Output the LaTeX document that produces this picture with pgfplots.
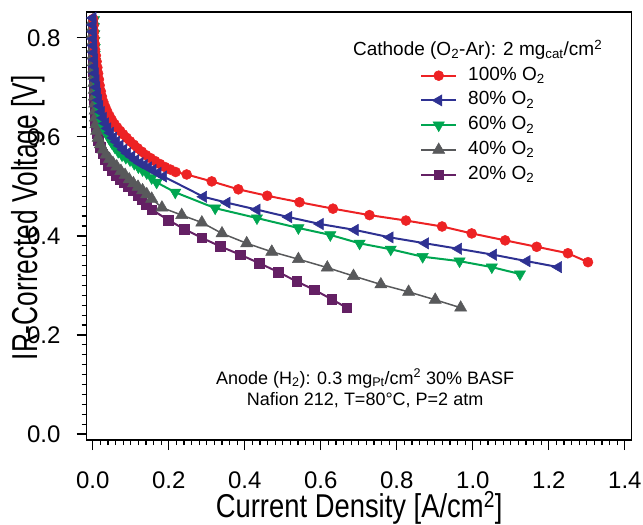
\documentclass[border=0pt]{standalone}
\usepackage{pgfplots}
\pgfplotsset{compat=1.18}
\usepackage{fontspec}
\setmainfont{Liberation Sans}
\newfontfamily\narrowsans[FakeStretch=0.83]{Liberation Sans}
\newfontfamily\narrowersans[FakeStretch=0.73]{Liberation Sans}

\definecolor{cRed}{RGB}{237,34,36}
\definecolor{cBlue}{RGB}{46,49,146}
\definecolor{cGreen}{RGB}{0,166,81}
\definecolor{cGray}{RGB}{88,89,91}
\definecolor{cPurple}{RGB}{100,32,100}

\begin{document}
\begin{tikzpicture}
\begin{axis}[
  name=ax, at={(0,0)}, anchor=south west,
  width=545pt, height=428pt, scale only axis,
  xmin=-0.016, xmax=1.418, ymin=-0.012, ymax=0.852,
  xtick={0,0.2,0.4,0.6,0.8,1.0,1.2,1.4},
  ytick={0,0.2,0.4,0.6,0.8},
  minor x tick num=9, minor y tick num=9,
  tick align=outside, xtick pos=bottom, ytick pos=left,
  major tick length=10pt, minor tick length=5pt,
  every tick/.style={black, line width=1.2pt},
  axis line style={line width=1.5pt},
  tick label style={font=\fontsize{24}{24}\selectfont, inner sep=0pt},
  xticklabel style={yshift=-22pt, text depth=0pt},
  yticklabel style={xshift=-16pt},
  /pgf/number format/fixed,
  /pgf/number format/fixed zerofill,
  /pgf/number format/precision=1,
  /pgf/number format/assume math mode=true,
  xlabel={\narrowsans\fontsize{33}{33}\selectfont Current Density [A/cm\textsuperscript{2}]},
  ylabel={\narrowersans\fontsize{36}{36}\selectfont IR-Corrected Voltage [V]},
  xlabel style={at={(axis description cs:0.5,-0.1799)}, anchor=base, inner sep=0pt},
  ylabel style={at={(axis description cs:-0.0905,0.519)}, anchor=base, inner sep=0pt},
  legend style={at={(axis description cs:0.6116,0.8727)}, anchor=north west,
    draw=none, fill=none, inner sep=0pt, row sep=6.75pt,
    font=\fontsize{19}{19}\selectfont,
    nodes={inner sep=0pt, text height=13.5pt, text depth=4.5pt},
    /tikz/every odd column/.append style={column sep=11pt}},
  legend cell align=left,
  legend image code/.code={\draw[#1, mark=none] plot coordinates {(0pt,0pt) (35pt,0pt)};
    \draw[#1] plot coordinates {(17.5pt,0pt)};},
]

% 20% O2
\addplot[forget plot, cPurple, line width=2pt, mark=square*, mark size=4.8pt,
  mark options={line width=0.5pt}] coordinates {
(0.000,0.830)(0.000,0.816)(0.000,0.802)(0.001,0.788)(0.001,0.774)(0.001,0.760)
(0.002,0.746)(0.002,0.732)(0.003,0.718)(0.003,0.704)(0.004,0.690)(0.004,0.676)
(0.005,0.662)(0.006,0.648)(0.007,0.634)(0.008,0.620)(0.011,0.606)(0.015,0.592)
(0.020,0.579)(0.026,0.566)(0.033,0.554)(0.041,0.543)(0.050,0.532)(0.060,0.522)
(0.071,0.514)(0.082,0.507)(0.094,0.499)(0.106,0.491)(0.118,0.482)(0.129,0.473)
(0.141,0.463)(0.155,0.453)(0.199,0.432)(0.240,0.414)(0.287,0.396)(0.335,0.379)
(0.388,0.362)(0.438,0.345)(0.488,0.327)(0.537,0.308)(0.583,0.291)(0.629,0.272)
(0.668,0.255)};

% 40% O2
\addplot[forget plot, cGray, line width=1.5pt, mark=triangle*, mark size=7pt,
  mark options={line width=0.5pt}] coordinates {
(0.000,0.835)(0.000,0.821)(0.000,0.807)(0.001,0.793)(0.001,0.779)(0.001,0.765)
(0.002,0.751)(0.002,0.737)(0.003,0.723)(0.003,0.709)(0.004,0.695)(0.004,0.681)
(0.005,0.667)(0.006,0.653)(0.007,0.639)(0.008,0.625)(0.010,0.612)(0.014,0.598)
(0.020,0.585)(0.027,0.574)(0.035,0.564)(0.044,0.555)(0.053,0.547)(0.063,0.540)
(0.074,0.531)(0.085,0.523)(0.096,0.514)(0.107,0.506)(0.119,0.499)(0.131,0.492)
(0.142,0.484)(0.155,0.475)(0.182,0.457)(0.234,0.442)(0.287,0.427)(0.340,0.405)
(0.405,0.385)(0.471,0.368)(0.541,0.353)(0.617,0.336)(0.686,0.319)(0.758,0.302)
(0.831,0.287)(0.901,0.271)(0.968,0.255)};

% 60% O2
\addplot[forget plot, cGreen, line width=2pt, mark=triangle*, mark size=6.5pt,
  mark options={line width=0.5pt, rotate=180}] coordinates {
(0.003,0.836)(0.003,0.822)(0.004,0.808)(0.004,0.794)(0.005,0.780)(0.005,0.766)
(0.006,0.752)(0.007,0.738)(0.008,0.724)(0.009,0.710)(0.010,0.696)(0.012,0.682)
(0.014,0.668)(0.017,0.655)(0.020,0.642)(0.024,0.630)(0.029,0.619)(0.035,0.608)
(0.042,0.598)(0.050,0.588)(0.058,0.579)(0.067,0.570)(0.077,0.563)(0.087,0.558)
(0.098,0.553)(0.109,0.546)(0.120,0.539)(0.131,0.533)(0.142,0.527)(0.155,0.517)
(0.168,0.508)(0.217,0.488)(0.322,0.456)(0.432,0.436)(0.541,0.416)(0.625,0.402)
(0.702,0.385)(0.784,0.373)(0.868,0.358)(0.965,0.349)(1.050,0.337)(1.124,0.323)};

% 100% O2
\addplot[forget plot, cRed, line width=2pt, mark=*, mark size=5pt,
  mark options={line width=0.5pt}] coordinates {
(0.001,0.838)(0.002,0.825)(0.003,0.812)(0.004,0.800)(0.005,0.788)(0.006,0.776)
(0.008,0.764)(0.010,0.752)(0.012,0.740)(0.014,0.728)(0.016,0.716)(0.018,0.704)
(0.021,0.692)(0.024,0.681)(0.028,0.670)(0.033,0.660)(0.038,0.651)(0.044,0.642)
(0.050,0.634)(0.057,0.626)(0.064,0.619)(0.072,0.612)(0.080,0.605)(0.089,0.598)
(0.098,0.591)(0.108,0.584)(0.118,0.577)(0.129,0.570)(0.140,0.563)(0.152,0.557)
(0.164,0.551)(0.177,0.545)(0.190,0.539)(0.204,0.534)(0.218,0.529)(0.247,0.524)
(0.313,0.510)(0.383,0.494)(0.459,0.481)(0.544,0.468)(0.632,0.455)(0.728,0.442)
(0.824,0.431)(0.919,0.419)(0.997,0.405)(1.085,0.391)(1.168,0.378)(1.250,0.365)
(1.303,0.347)};

% 80% O2
\addplot[forget plot, cBlue, line width=2pt, mark=triangle*, mark size=6.5pt,
  mark options={line width=0.5pt, rotate=90}] coordinates {
(0.000,0.840)(0.000,0.826)(0.001,0.812)(0.001,0.798)(0.002,0.784)(0.003,0.770)
(0.004,0.756)(0.005,0.742)(0.006,0.728)(0.008,0.714)(0.010,0.700)(0.012,0.687)
(0.015,0.674)(0.018,0.662)(0.022,0.650)(0.027,0.638)(0.033,0.627)(0.039,0.617)
(0.046,0.608)(0.054,0.598)(0.062,0.590)(0.071,0.582)(0.081,0.574)(0.091,0.567)
(0.102,0.560)(0.113,0.553)(0.124,0.547)(0.135,0.543)(0.146,0.538)(0.158,0.533)
(0.171,0.527)(0.186,0.520)(0.291,0.479)(0.353,0.467)(0.432,0.453)(0.515,0.438)
(0.598,0.424)(0.690,0.412)(0.782,0.397)(0.875,0.385)(0.962,0.374)(1.054,0.362)
(1.142,0.349)(1.225,0.337)};

\addlegendimage{cRed, line width=2pt, mark=*, mark size=5pt, mark options={line width=0.5pt}}
\addlegendentry{100\% O\textsubscript{2}}
\addlegendimage{cBlue, line width=2pt, mark=triangle*, mark size=6.5pt, mark options={line width=0.5pt, rotate=90}}
\addlegendentry{80\% O\textsubscript{2}}
\addlegendimage{cGreen, line width=2pt, mark=triangle*, mark size=6.5pt, mark options={line width=0.5pt, rotate=180}}
\addlegendentry{60\% O\textsubscript{2}}
\addlegendimage{cGray, line width=1.5pt, mark=triangle*, mark size=7pt, mark options={line width=0.5pt}}
\addlegendentry{40\% O\textsubscript{2}}
\addlegendimage{cPurple, line width=2pt, mark=square*, mark size=4.8pt, mark options={line width=0.5pt}}
\addlegendentry{20\% O\textsubscript{2}}

\node[anchor=base, font=\fontsize{19}{19}\selectfont] at (axis cs:1.0126,0.764)
  {Cathode (O\textsubscript{2}-Ar): 2 mg\textsubscript{cat}/cm\textsuperscript{2}};
\node[anchor=base, font=\fontsize{18}{18}\selectfont] at (axis cs:0.7166,0.101)
  {Anode (H\textsubscript{2}): 0.3 mg\textsubscript{Pt}/cm\textsuperscript{2} 30\% BASF};
\node[anchor=base, font=\fontsize{18}{18}\selectfont] at (axis cs:0.7166,0.0586)
  {Nafion 212, T=80°C, P=2 atm};
\end{axis}
\pgfresetboundingbox
\path[use as bounding box] (-86.7pt,-85pt) rectangle (556.3pt,440pt);
\end{tikzpicture}
\end{document}
